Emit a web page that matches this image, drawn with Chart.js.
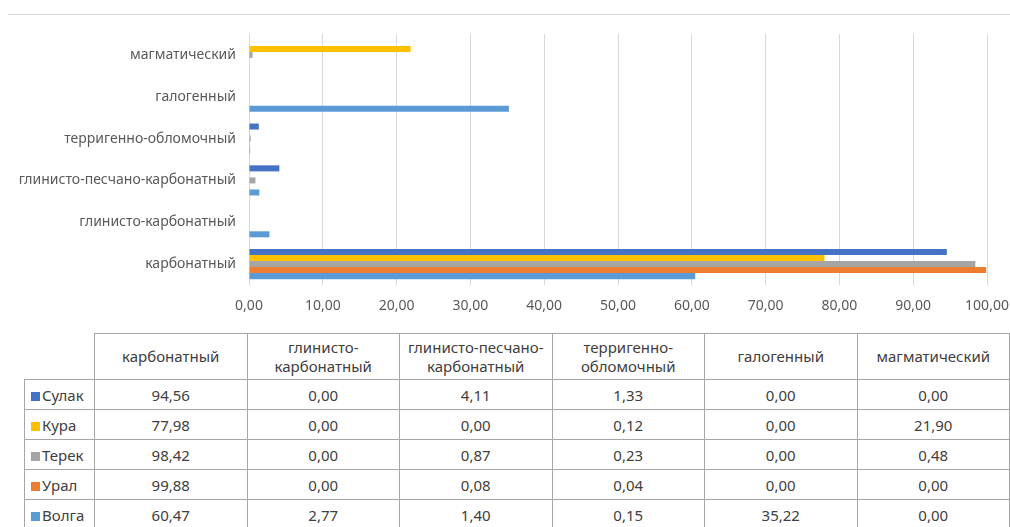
<!DOCTYPE html>
<html>
<head>
<meta charset="utf-8">
<script src="https://cdn.jsdelivr.net/npm/chart.js@4"></script>
<style>
  body { margin: 0; background: #fff; font-family: 'Noto Sans', sans-serif; }
  #wrap { position: relative; width: 1010px; height: 527px; overflow: hidden; }
  #topline { position: absolute; left: 8px; top: 14px; width: 1002px; height: 0; border-top: 1px solid #d9d9d9; }
  #chartBox { position: absolute; left: 0; top: 0; width: 1010px; height: 330px; }
  #dataTable { position: absolute; left: 24px; top: 333px; border-collapse: collapse; table-layout: fixed; color: #404040; font-size: 15px; }
  #dataTable td, #dataTable th { border: 1px solid #a6a6a6; text-align: center; padding: 0; font-weight: normal; }
  #dataTable th { height: 45px; line-height: 19px; }
  #dataTable td { height: 29px; }
  #dataTable th.corner { border-top: none; border-left: none; }
  #dataTable td.name { text-align: left; padding-left: 6px; white-space: nowrap; }
  .sw { display: inline-block; width: 9px; height: 9px; margin-right: 2px; vertical-align: 0px; }
</style>
</head>
<body>
<div id="wrap">
  <div id="topline"></div>
  <div id="chartBox"><canvas id="chart" width="1010" height="330"></canvas></div>
  <table id="dataTable"></table>
</div>
<script>
const categories = ['карбонатный', 'глинисто-карбонатный', 'глинисто-песчано-карбонатный', 'терригенно-обломочный', 'галогенный', 'магматический'];
const seriesNames = ['Сулак', 'Кура', 'Терек', 'Урал', 'Волга'];
const seriesColors = ['#4472c4', '#ffc000', '#a5a5a5', '#ed7d31', '#5b9bd5'];

const sulak = [94.56, 0.00, 4.11, 1.33, 0.00, 0.00];
const kura = [77.98, 0.00, 0.00, 0.12, 0.00, 21.90];
const terek = [98.42, 0.00, 0.87, 0.23, 0.00, 0.48];
const ural = [99.88, 0.00, 0.08, 0.04, 0.00, 0.00];
const volga = [60.47, 2.77, 1.40, 0.15, 35.22, 0.00];
const seriesValues = [sulak, kura, terek, ural, volga];

const xTicks = [0, 10, 20, 30, 40, 50, 60, 70, 80, 90, 100];

const fmt = v => v.toFixed(2).replace('.', ',');

const datasets = seriesNames.map((name, i) => ({
  label: name,
  data: seriesValues[i],
  backgroundColor: seriesColors[i],
  borderWidth: 0,
  categoryPercentage: 0.72,
  barPercentage: 1.0
}));

new Chart(document.getElementById('chart').getContext('2d'), {
  type: 'bar',
  data: { labels: categories, datasets: datasets },
  options: {
    indexAxis: 'y',
    responsive: false,
    animation: false,
    layout: { padding: { left: 0, right: 23, top: 34, bottom: 0 } },
    plugins: { legend: { display: false }, tooltip: { enabled: false } },
    scales: {
      x: {
        min: xTicks[0],
        max: xTicks[xTicks.length - 1],
        afterBuildTicks: scale => { scale.ticks = xTicks.map(v => ({ value: v })); },
        afterFit: scale => {
          scale.height = 45;
          scale.paddingLeft = 0;
          scale.paddingRight = 0;
        },
        grid: { color: '#d9d9d9', drawTicks: false },
        border: { display: false },
        ticks: {
          padding: 13,
          color: '#595959',
          maxRotation: 0,
          font: { family: 'Noto Sans', size: 14 },
          callback: v => fmt(v)
        }
      },
      y: {
        reverse: true,
        afterFit: scale => { scale.width = 249; },
        grid: { display: false, drawTicks: false },
        border: { display: false },
        ticks: {
          padding: 13,
          color: '#595959',
          font: { family: 'Noto Sans', size: 14 }
        }
      }
    }
  }
});

// data table below the chart
const table = document.getElementById('dataTable');
let html = '<colgroup><col style="width:70px">' + categories.map(() => '<col style="width:152.5px">').join('') + '</colgroup>';
html += '<tr><th class="corner"></th>' + categories.map(c => {
  const k = c.lastIndexOf('-');
  return '<th>' + (k > 0 ? c.slice(0, k + 1) + '<br>' + c.slice(k + 1) : c) + '</th>';
}).join('') + '</tr>';
seriesNames.forEach((name, i) => {
  html += '<tr><td class="name"><span class="sw" style="background:' + seriesColors[i] + '"></span>' + name + '</td>' +
    seriesValues[i].map(v => '<td>' + fmt(v) + '</td>').join('') + '</tr>';
});
table.innerHTML = html;
</script>
</body>
</html>
